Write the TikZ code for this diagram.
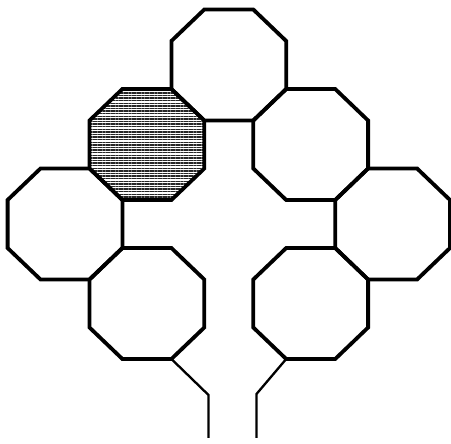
\documentclass[tikz,border=0pt]{standalone}
\usetikzlibrary{patterns.meta}
\begin{document}
\begin{tikzpicture}[x=1pt,y=-1pt,
  octline/.style={line width=3.8pt,line join=miter},
  stemline/.style={line width=2.3pt,line join=miter},
  hatch/.style={pattern={Lines[angle=0,distance=2.6pt,line width=1.4pt]},pattern color=black!85},
  octa/.pic={
    \path[octline,draw,pic actions] (-24.5,-55.5) -- (24.5,-55.5) -- (57.4,-24) -- (57.4,24)
      -- (24.5,55.5) -- (-24.5,55.5) -- (-57.4,24) -- (-57.4,-24) -- cycle;
    \coordinate (-br) at (24.5,55.5);
    \coordinate (-bl) at (-24.5,55.5);
  }]
\useasboundingbox (0,0) rectangle (451,444);
\pic (top)  at (228.8,65)    {octa};
\pic (oct2) at (310.7,144.5) {octa};
\pic (left) at (65,224)      {octa};
\pic (oct3) at (392.6,224)   {octa};
\pic (ll)   at (146.9,303.5) {octa};
\pic (oct4) at (310.7,303.5) {octa};
\pic[hatch] (shaded) at (146.9,144.5) {octa};
\coordinate (lbend) at (208.5,395);
\coordinate (lfoot) at (208.5,438);
\coordinate (rbend) at (256.5,394);
\coordinate (rfoot) at (256.5,438);
\draw[stemline] (ll-br) -- (lbend) -- (lfoot);
\draw[stemline] (oct4-bl) -- (rbend) -- (rfoot);
\end{tikzpicture}
\end{document}
